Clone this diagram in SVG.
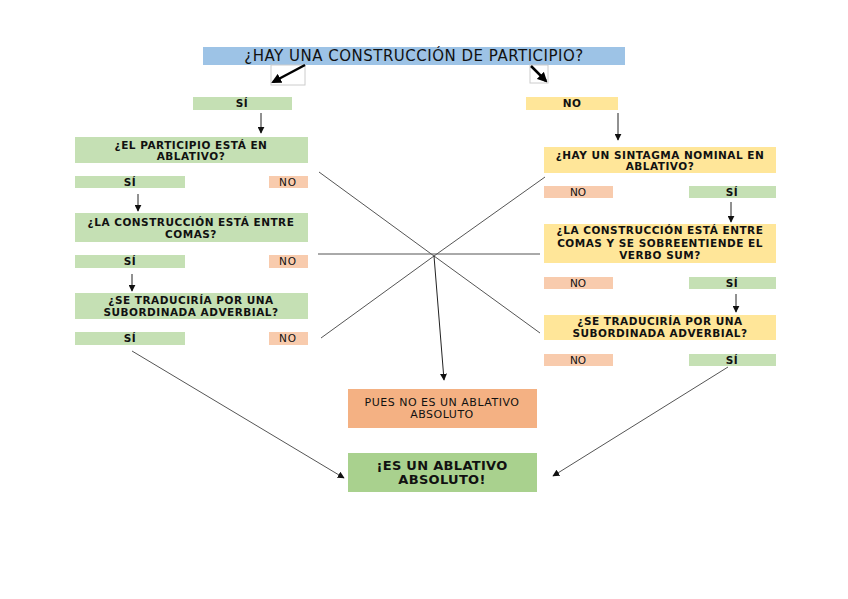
<svg xmlns="http://www.w3.org/2000/svg" width="848" height="599" viewBox="0 0 848 599">
<defs>
<style>
.g{fill:#c5e0b4}
.y{fill:#ffe699}
.s{fill:#f8cbad}
.t{font-family:"DejaVu Sans",Verdana,sans-serif;font-size:10.5px;fill:#111;text-anchor:middle}
.b{font-weight:bold;letter-spacing:0.5px}
.c{stroke:#555;stroke-width:1;fill:none}
.a{stroke:#222;stroke-width:1;fill:none}
</style>
<marker id="ar" viewBox="0 0 10 10" refX="9" refY="5" markerWidth="7" markerHeight="7" orient="auto" markerUnits="userSpaceOnUse"><path d="M0,0 L10,5 L0,10 z" fill="#111"/></marker>
<marker id="ab" viewBox="0 0 10 10" refX="8" refY="5" markerWidth="4" markerHeight="4" orient="auto"><path d="M0,0 L10,5 L0,10 z" fill="#000"/></marker>
</defs>
<rect width="848" height="599" fill="#fff"/>

<g id="title">
<rect x="203" y="47" width="422" height="18" fill="#9dc3e6"/>
<text x="414" y="61" class="t" style="font-size:15px;letter-spacing:0.5px">¿HAY UNA CONSTRUCCIÓN DE PARTICIPIO?</text>
</g>
<g id="top-si"><rect x="193" y="97" width="99" height="13" class="g"/><text x="242" y="107" class="t b">SÍ</text></g>
<g id="top-no"><rect x="526" y="97" width="92" height="13" class="y"/><text x="572" y="107" class="t b">NO</text></g>

<g id="l1"><rect x="75" y="137" width="233" height="26" class="g"/><text x="191" y="149" class="t b">¿EL PARTICIPIO ESTÁ EN</text><text x="191" y="160" class="t b">ABLATIVO?</text></g>
<g id="l1-si"><rect x="75" y="176" width="110" height="12" class="g"/><text x="130" y="186" class="t b">SÍ</text></g>
<g id="l1-no"><rect x="269" y="176" width="39" height="12" class="s"/><text x="288" y="186" class="t" letter-spacing="1">NO</text></g>
<g id="l2"><rect x="75" y="213" width="233" height="29" class="g"/><text x="191" y="226" class="t b">¿LA CONSTRUCCIÓN ESTÁ ENTRE</text><text x="191" y="238" class="t b">COMAS?</text></g>
<g id="l2-si"><rect x="75" y="255" width="110" height="13" class="g"/><text x="130" y="265" class="t b">SÍ</text></g>
<g id="l2-no"><rect x="269" y="255" width="39" height="13" class="s"/><text x="288" y="265" class="t" letter-spacing="1">NO</text></g>
<g id="l3"><rect x="75" y="293" width="233" height="26" class="g"/><text x="191" y="304" class="t b">¿SE TRADUCIRÍA POR UNA</text><text x="191" y="316" class="t b">SUBORDINADA ADVERBIAL?</text></g>
<g id="l3-si"><rect x="75" y="332" width="110" height="13" class="g"/><text x="130" y="342" class="t b">SÍ</text></g>
<g id="l3-no"><rect x="269" y="332" width="39" height="13" class="s"/><text x="288" y="342" class="t" letter-spacing="1">NO</text></g>

<g id="r1"><rect x="544" y="147" width="232" height="26" class="y"/><text x="660" y="159" class="t b">¿HAY UN SINTAGMA NOMINAL EN</text><text x="660" y="170" class="t b">ABLATIVO?</text></g>
<g id="r1-no"><rect x="544" y="186" width="69" height="12" class="s"/><text x="578" y="196" class="t">NO</text></g>
<g id="r1-si"><rect x="689" y="186" width="87" height="12" class="g"/><text x="732" y="196" class="t b">SÍ</text></g>
<g id="r2"><rect x="544" y="224" width="232" height="39" class="y"/><text x="660" y="234" class="t b">¿LA CONSTRUCCIÓN ESTÁ ENTRE</text><text x="660" y="247" class="t b">COMAS Y SE SOBREENTIENDE EL</text><text x="660" y="259" class="t b">VERBO SUM?</text></g>
<g id="r2-no"><rect x="544" y="277" width="69" height="12" class="s"/><text x="578" y="287" class="t">NO</text></g>
<g id="r2-si"><rect x="689" y="277" width="87" height="12" class="g"/><text x="732" y="287" class="t b">SÍ</text></g>
<g id="r3"><rect x="544" y="315" width="232" height="25" class="y"/><text x="660" y="325" class="t b">¿SE TRADUCIRÍA POR UNA</text><text x="660" y="337" class="t b">SUBORDINADA ADVERBIAL?</text></g>
<g id="r3-no"><rect x="544" y="354" width="69" height="12" class="s"/><text x="578" y="364" class="t">NO</text></g>
<g id="r3-si"><rect x="689" y="354" width="87" height="12" class="g"/><text x="732" y="364" class="t b">SÍ</text></g>

<g id="no-abl"><rect x="348" y="389" width="189" height="39" fill="#f4b183"/><text x="442" y="406" class="t" style="font-size:11px;letter-spacing:0.5px">PUES NO ES UN ABLATIVO</text><text x="442" y="418" class="t" style="font-size:11px;letter-spacing:0.5px">ABSOLUTO</text></g>
<g id="abl"><rect x="348" y="453" width="189" height="39" fill="#a9d18e"/><text x="442" y="470" class="t b" style="font-size:13px;letter-spacing:0.3px">¡ES UN ABLATIVO</text><text x="442" y="484" class="t b" style="font-size:13px;letter-spacing:0.3px">ABSOLUTO!</text></g>

<g id="connectors">
<rect x="271" y="65" width="34" height="20" fill="none" stroke="#ccc" stroke-width="1"/>
<rect x="530" y="65" width="18" height="18" fill="none" stroke="#ccc" stroke-width="1"/>
<line x1="305" y1="65" x2="273" y2="82" stroke="#000" stroke-width="2.5" marker-end="url(#ab)"/>
<line x1="531" y1="66" x2="546" y2="81" stroke="#000" stroke-width="2.5" marker-end="url(#ab)"/>
<line x1="261" y1="113" x2="261" y2="133" class="a" marker-end="url(#ar)"/>
<line x1="618" y1="113" x2="618" y2="140" class="a" marker-end="url(#ar)"/>
<line x1="138" y1="194" x2="138" y2="211" class="a" marker-end="url(#ar)"/>
<line x1="132" y1="274" x2="132" y2="291" class="a" marker-end="url(#ar)"/>
<line x1="731" y1="202" x2="731" y2="222" class="a" marker-end="url(#ar)"/>
<line x1="736" y1="294" x2="736" y2="312" class="a" marker-end="url(#ar)"/>
<line x1="319" y1="172" x2="434" y2="256" class="c"/>
<line x1="545" y1="177" x2="434" y2="256" class="c"/>
<line x1="318" y1="254" x2="540" y2="254" class="c"/>
<line x1="321" y1="338" x2="434" y2="256" class="c"/>
<line x1="540" y1="333" x2="434" y2="256" class="c"/>
<line x1="434" y1="256" x2="444" y2="380" class="a" marker-end="url(#ar)"/>
<line x1="132" y1="351" x2="344" y2="478" class="c" marker-end="url(#ar)"/>
<line x1="728" y1="367" x2="553" y2="476" class="c" marker-end="url(#ar)"/>
</g>
</svg>
